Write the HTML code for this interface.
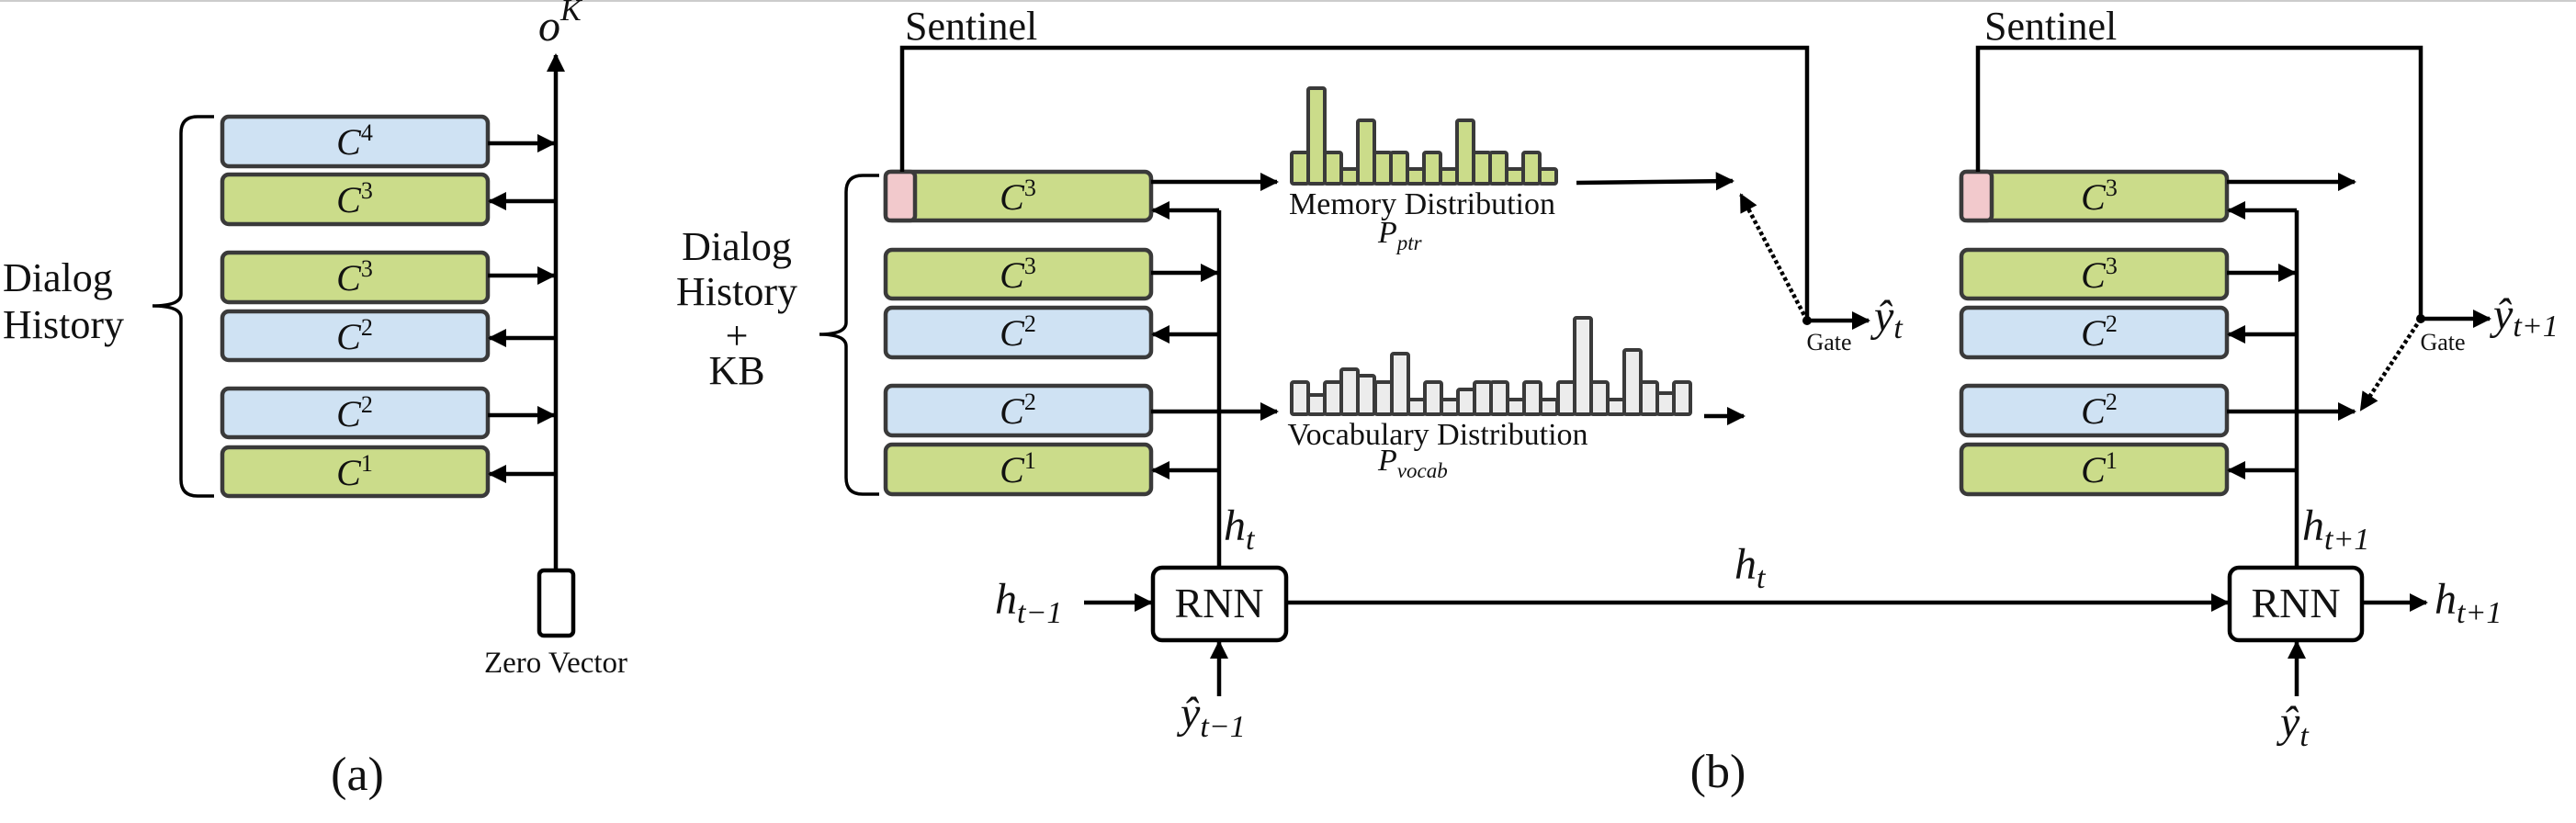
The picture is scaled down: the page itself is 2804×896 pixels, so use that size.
<!DOCTYPE html>
<html><head><meta charset="utf-8"><style>
html,body{margin:0;padding:0;background:#fff;}
svg{display:block;}
text{font-family:"Liberation Serif","DejaVu Serif",serif;fill:#111;}
.it{font-style:italic;}
</style></head><body>
<svg width="2804" height="896" viewBox="0 0 2804 896" xmlns="http://www.w3.org/2000/svg" font-family="Liberation Serif, DejaVu Serif, serif">
<defs>
<marker id="ah" viewBox="0 0 10 10" refX="9" refY="5" markerWidth="4.5" markerHeight="4.5" orient="auto" markerUnits="strokeWidth">
<path d="M0,0 L10,5 L0,10 z" fill="#000"/></marker>
</defs>
<rect x="0" y="0" width="2804" height="2" fill="#ccc"/>
<g stroke="#3a3a3a" stroke-width="4.5">
<rect x="242" y="127" width="289" height="54" rx="7" fill="#cfe2f3"/>
<rect x="242" y="190" width="289" height="54" rx="7" fill="#cbdc8a"/>
<rect x="242" y="275" width="289" height="54" rx="7" fill="#cbdc8a"/>
<rect x="242" y="339" width="289" height="53" rx="7" fill="#cfe2f3"/>
<rect x="242" y="423" width="289" height="53" rx="7" fill="#cfe2f3"/>
<rect x="242" y="487" width="289" height="53" rx="7" fill="#cbdc8a"/>
<rect x="587" y="621" width="37" height="71" rx="5" fill="#fff" stroke="#000"/>
<rect x="964" y="187" width="289" height="53" rx="7" fill="#cbdc8a"/>
<rect x="964" y="187" width="32" height="53" rx="5" fill="#f2c9cc"/>
<rect x="964" y="272" width="289" height="53" rx="7" fill="#cbdc8a"/>
<rect x="964" y="335" width="289" height="54" rx="7" fill="#cfe2f3"/>
<rect x="964" y="420" width="289" height="54" rx="7" fill="#cfe2f3"/>
<rect x="964" y="484" width="289" height="54" rx="7" fill="#cbdc8a"/>
<rect x="2135" y="187" width="289" height="53" rx="7" fill="#cbdc8a"/>
<rect x="2135" y="187" width="33" height="53" rx="5" fill="#f2c9cc"/>
<rect x="2135" y="272" width="289" height="53" rx="7" fill="#cbdc8a"/>
<rect x="2135" y="335" width="289" height="54" rx="7" fill="#cfe2f3"/>
<rect x="2135" y="420" width="289" height="54" rx="7" fill="#cfe2f3"/>
<rect x="2135" y="484" width="289" height="54" rx="7" fill="#cbdc8a"/>
<rect x="1255" y="618" width="145" height="79" rx="10" fill="#fff" stroke="#000"/>
<rect x="2427" y="618" width="144" height="79" rx="10" fill="#fff" stroke="#000"/>
</g>
<g stroke="#3a3a3a" stroke-width="4" fill="#cbdc8a">
<rect x="1406" y="166" width="18" height="34" rx="2"/>
<rect x="1424" y="96" width="18" height="104" rx="2"/>
<rect x="1442" y="166" width="18" height="34" rx="2"/>
<rect x="1460" y="184" width="18" height="16" rx="2"/>
<rect x="1478" y="131" width="18" height="69" rx="2"/>
<rect x="1496" y="166" width="18" height="34" rx="2"/>
<rect x="1514" y="166" width="18" height="34" rx="2"/>
<rect x="1532" y="184" width="18" height="16" rx="2"/>
<rect x="1550" y="166" width="18" height="34" rx="2"/>
<rect x="1568" y="184" width="18" height="16" rx="2"/>
<rect x="1586" y="131" width="18" height="69" rx="2"/>
<rect x="1604" y="166" width="18" height="34" rx="2"/>
<rect x="1622" y="166" width="18" height="34" rx="2"/>
<rect x="1640" y="184" width="18" height="16" rx="2"/>
<rect x="1658" y="166" width="18" height="34" rx="2"/>
<rect x="1676" y="184" width="18" height="16" rx="2"/>
</g>
<g stroke="#3a3a3a" stroke-width="4" fill="#ececec">
<rect x="1406" y="416" width="18" height="35" rx="2"/>
<rect x="1424" y="430" width="18" height="21" rx="2"/>
<rect x="1442" y="416" width="18" height="35" rx="2"/>
<rect x="1460" y="402" width="18" height="49" rx="2"/>
<rect x="1478" y="409" width="18" height="42" rx="2"/>
<rect x="1497" y="416" width="18" height="35" rx="2"/>
<rect x="1515" y="385" width="18" height="66" rx="2"/>
<rect x="1533" y="435" width="18" height="16" rx="2"/>
<rect x="1551" y="416" width="18" height="35" rx="2"/>
<rect x="1569" y="435" width="18" height="16" rx="2"/>
<rect x="1587" y="424" width="18" height="27" rx="2"/>
<rect x="1605" y="416" width="18" height="35" rx="2"/>
<rect x="1623" y="416" width="18" height="35" rx="2"/>
<rect x="1641" y="435" width="18" height="16" rx="2"/>
<rect x="1659" y="416" width="18" height="35" rx="2"/>
<rect x="1677" y="435" width="18" height="16" rx="2"/>
<rect x="1696" y="416" width="18" height="35" rx="2"/>
<rect x="1714" y="346" width="18" height="105" rx="2"/>
<rect x="1732" y="416" width="18" height="35" rx="2"/>
<rect x="1750" y="435" width="18" height="16" rx="2"/>
<rect x="1768" y="381" width="18" height="70" rx="2"/>
<rect x="1786" y="416" width="18" height="35" rx="2"/>
<rect x="1804" y="428" width="18" height="23" rx="2"/>
<rect x="1822" y="416" width="18" height="35" rx="2"/>
</g>
<g stroke="#000" stroke-width="4.5" fill="none">
<line x1="605" y1="621" x2="605" y2="60" marker-end="url(#ah)"/>
<line x1="531" y1="156" x2="603" y2="156" marker-end="url(#ah)"/>
<line x1="605" y1="219" x2="533" y2="219" marker-end="url(#ah)"/>
<line x1="531" y1="300" x2="603" y2="300" marker-end="url(#ah)"/>
<line x1="605" y1="368" x2="533" y2="368" marker-end="url(#ah)"/>
<line x1="531" y1="452" x2="603" y2="452" marker-end="url(#ah)"/>
<line x1="605" y1="516" x2="533" y2="516" marker-end="url(#ah)"/>
<path d="M233,127 H215 Q197,127 197,145 V320 Q197,333 166,333 Q197,333 197,346 V522 Q197,540 215,540 H233" stroke-width="3.5"/>
<path d="M957,191 H939 Q921,191 921,209 V351 Q921,364 892,364 Q921,364 921,377 V520 Q921,538 939,538 H957" stroke-width="3.5"/>
<polyline points="982,187 982,52 1967,52 1967,349"/>
<line x1="1327" y1="618" x2="1327" y2="229"/>
<line x1="1327" y1="229" x2="1255" y2="229" marker-end="url(#ah)"/>
<line x1="1253" y1="297" x2="1325" y2="297" marker-end="url(#ah)"/>
<line x1="1327" y1="364" x2="1255" y2="364" marker-end="url(#ah)"/>
<line x1="1327" y1="512" x2="1255" y2="512" marker-end="url(#ah)"/>
<line x1="1253" y1="198" x2="1390" y2="198" marker-end="url(#ah)"/>
<line x1="1253" y1="448" x2="1390" y2="448" marker-end="url(#ah)"/>
<line x1="1716" y1="199" x2="1886" y2="197" marker-end="url(#ah)"/>
<line x1="1855" y1="453" x2="1898" y2="453" marker-end="url(#ah)"/>
<line x1="1967" y1="349" x2="1895" y2="212" stroke-dasharray="4,3" marker-end="url(#ah)"/>
<line x1="1967" y1="349" x2="2034" y2="349" marker-end="url(#ah)"/>
<line x1="1180" y1="656" x2="1253" y2="656" marker-end="url(#ah)"/>
<line x1="1327" y1="758" x2="1327" y2="699" marker-end="url(#ah)"/>
<line x1="1400" y1="656" x2="2425" y2="656" marker-end="url(#ah)"/>
<polyline points="2153,187 2153,52 2635,52 2635,347"/>
<line x1="2500" y1="618" x2="2500" y2="229"/>
<line x1="2500" y1="229" x2="2426" y2="229" marker-end="url(#ah)"/>
<line x1="2424" y1="297" x2="2498" y2="297" marker-end="url(#ah)"/>
<line x1="2500" y1="364" x2="2426" y2="364" marker-end="url(#ah)"/>
<line x1="2500" y1="512" x2="2426" y2="512" marker-end="url(#ah)"/>
<line x1="2424" y1="198" x2="2563" y2="198" marker-end="url(#ah)"/>
<line x1="2424" y1="448" x2="2563" y2="448" marker-end="url(#ah)"/>
<line x1="2635" y1="347" x2="2570" y2="446" stroke-dasharray="4,3" marker-end="url(#ah)"/>
<line x1="2635" y1="347" x2="2710" y2="347" marker-end="url(#ah)"/>
<line x1="2571" y1="656" x2="2641" y2="656" marker-end="url(#ah)"/>
<line x1="2500" y1="758" x2="2500" y2="699" marker-end="url(#ah)"/>
</g>
<circle cx="1967" cy="349" r="5" fill="#000"/>
<circle cx="2635" cy="347" r="5" fill="#000"/>
<g font-size="40" text-anchor="middle" class="it">
<text x="386" y="168">C<tspan dy="-15" font-size="26" font-style="normal">4</tspan></text>
<text x="386" y="231">C<tspan dy="-15" font-size="26" font-style="normal">3</tspan></text>
<text x="386" y="316">C<tspan dy="-15" font-size="26" font-style="normal">3</tspan></text>
<text x="386" y="380">C<tspan dy="-15" font-size="26" font-style="normal">2</tspan></text>
<text x="386" y="464">C<tspan dy="-15" font-size="26" font-style="normal">2</tspan></text>
<text x="386" y="528">C<tspan dy="-15" font-size="26" font-style="normal">1</tspan></text>
<text x="1108" y="228">C<tspan dy="-15" font-size="26" font-style="normal">3</tspan></text>
<text x="1108" y="313">C<tspan dy="-15" font-size="26" font-style="normal">3</tspan></text>
<text x="1108" y="376">C<tspan dy="-15" font-size="26" font-style="normal">2</tspan></text>
<text x="1108" y="461">C<tspan dy="-15" font-size="26" font-style="normal">2</tspan></text>
<text x="1108" y="525">C<tspan dy="-15" font-size="26" font-style="normal">1</tspan></text>
<text x="2285" y="228">C<tspan dy="-15" font-size="26" font-style="normal">3</tspan></text>
<text x="2285" y="313">C<tspan dy="-15" font-size="26" font-style="normal">3</tspan></text>
<text x="2285" y="376">C<tspan dy="-15" font-size="26" font-style="normal">2</tspan></text>
<text x="2285" y="461">C<tspan dy="-15" font-size="26" font-style="normal">2</tspan></text>
<text x="2285" y="525">C<tspan dy="-15" font-size="26" font-style="normal">1</tspan></text>
</g>
<g font-size="44">
<text x="3" y="317">Dialog</text>
<text x="3" y="368">History</text>
<text x="802" y="283" text-anchor="middle">Dialog</text>
<text x="802" y="332" text-anchor="middle">History</text>
<text x="802" y="380" text-anchor="middle">+</text>
<text x="802" y="418" text-anchor="middle">KB</text>
<text x="985" y="43">Sentinel</text>
<text x="2160" y="43">Sentinel</text>
<text x="1327" y="672" text-anchor="middle" font-size="46">RNN</text>
<text x="2499" y="672" text-anchor="middle" font-size="46">RNN</text>
<text x="389" y="860" text-anchor="middle" font-size="52">(a)</text>
<text x="1870" y="857" text-anchor="middle" font-size="52">(b)</text>
</g>
<text x="605" y="732" text-anchor="middle" font-size="33">Zero Vector</text>
<text x="1548" y="233" text-anchor="middle" font-size="34">Memory Distribution</text>
<text x="1565" y="484" text-anchor="middle" font-size="34">Vocabulary Distribution</text>
<text x="1991" y="381" text-anchor="middle" font-size="26">Gate</text>
<text x="2659" y="381" text-anchor="middle" font-size="26">Gate</text>
<g font-size="48" class="it">
<text x="586" y="44">o<tspan dy="-22" font-size="34">K</tspan></text>
<text x="1500" y="264" font-size="34">P<tspan dy="8" font-size="23">ptr</tspan></text>
<text x="1500" y="512" font-size="34">P<tspan dy="8" font-size="23">vocab</tspan></text>
<text x="2040" y="360">ŷ<tspan dy="8" font-size="34">t</tspan></text>
<text x="2714" y="358">ŷ<tspan dy="8" font-size="34">t+1</tspan></text>
<text x="1083" y="668">h<tspan dy="10" font-size="34">t−1</tspan></text>
<text x="1332" y="588">h<tspan dy="10" font-size="34">t</tspan></text>
<text x="1888" y="630">h<tspan dy="10" font-size="34">t</tspan></text>
<text x="1285" y="792">ŷ<tspan dy="10" font-size="34">t−1</tspan></text>
<text x="2506" y="588">h<tspan dy="10" font-size="34">t+1</tspan></text>
<text x="2650" y="668">h<tspan dy="10" font-size="34">t+1</tspan></text>
<text x="2482" y="802">ŷ<tspan dy="10" font-size="34">t</tspan></text>
</g>
</svg>
</body></html>
